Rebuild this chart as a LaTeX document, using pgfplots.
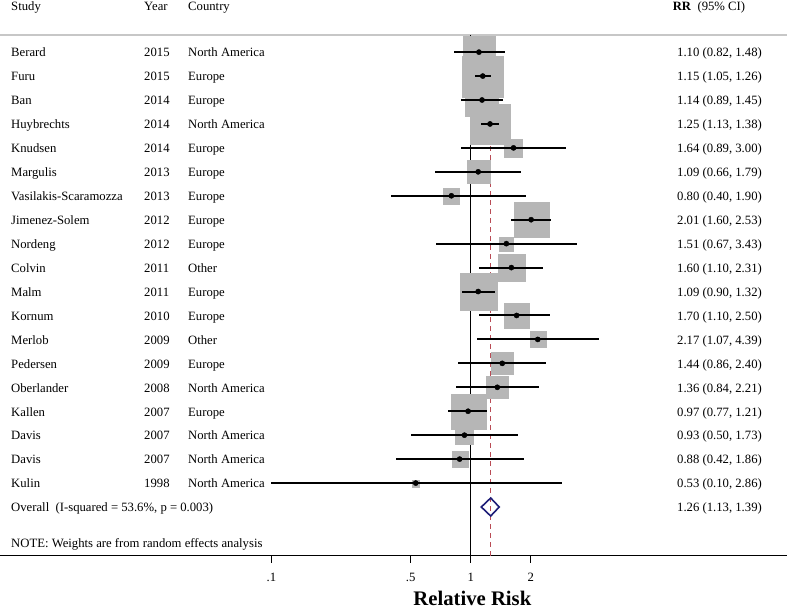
\documentclass[border=0pt]{standalone}
\usepackage{fontspec}
\setmainfont{Liberation Serif}
\usepackage{pgfplots}
\usepackage{pgfplotstable}
\pgfplotsset{compat=1.18}

\definecolor{boxgray}{RGB}{182,182,182}
\definecolor{refred}{RGB}{185,75,85}
\definecolor{dmdnavy}{RGB}{30,30,120}

% row position, study, year, country, RR, CI, box size (px)
\pgfplotstableread[col sep=comma]{
y,study,year,country,rr,lo,hi,w
20,Berard,2015,North America,1.10,0.82,1.48,32
19,Furu,2015,Europe,1.15,1.05,1.26,41
18,Ban,2014,Europe,1.14,0.89,1.45,33
17,Huybrechts,2014,North America,1.25,1.13,1.38,40
16,Knudsen,2014,Europe,1.64,0.89,3.00,18
15,Margulis,2013,Europe,1.09,0.66,1.79,23
14,Vasilakis-Scaramozza,2013,Europe,0.80,0.40,1.90,16
13,Jimenez-Solem,2012,Europe,2.01,1.60,2.53,35
12,Nordeng,2012,Europe,1.51,0.67,3.43,14
11,Colvin,2011,Other,1.60,1.10,2.31,27
10,Malm,2011,Europe,1.09,0.90,1.32,37
9,Kornum,2010,Europe,1.70,1.10,2.50,25
8,Merlob,2009,Other,2.17,1.07,4.39,16
7,Pedersen,2009,Europe,1.44,0.86,2.40,22
6,Oberlander,2008,North America,1.36,0.84,2.21,22
5,Kallen,2007,Europe,0.97,0.77,1.21,35
4,Davis,2007,North America,0.93,0.50,1.73,18
3,Davis,2007,North America,0.88,0.42,1.86,16
2,Kulin,1998,North America,0.53,0.10,2.86,7
}\studies

\pgfplotsset{
  textcol/.style={black, only marks, mark=none, nodes near coords,
    point meta=explicit symbolic,
    nodes near coords style={anchor=base west, inner sep=0pt, yshift=-4.8pt, black}},
}

\begin{document}
\fontsize{12.7}{15}\selectfont
\begin{tikzpicture}
\begin{axis}[
  name=ax,
  scale only axis,
  width=787pt, height=520.7pt,
  xmode=log,
  xmin=0.004346, xmax=38.65,
  ymin=-1.034, ymax=20.716,
  axis x line*=bottom,
  axis y line=none,
  axis line style={black, line width=1.1pt},
  xtick={0.1,0.5,1,2},
  xticklabels={.1,.5,1,2},
  minor xtick={},
  xtick align=outside,
  major tick length=7pt,
  xtick style={black, line width=1.1pt},
  xticklabel style={yshift=-6pt},
  clip=false,
  clip marker paths=true,
  /pgf/number format/assume math mode=true,
]
% header rule
\draw[black!22, line width=1.5pt] (rel axis cs:0,1) -- (rel axis cs:1,1);

% null line and overall line (behind the boxes)
\addplot[black, line width=1.1pt] coordinates {(1,-1.034) (1,20.716)};
\addplot[refred, line width=1.1pt, dash pattern=on 5pt off 4pt]
  coordinates {(1.26,-1.034) (1.26,20.716)};

% weight boxes
\addplot[scatter, only marks, mark=square*,
  mark options={line width=0.1pt},
  scatter/use mapped color={draw=boxgray, fill=boxgray},
  visualization depends on={\thisrow{w}/2 \as \halfw},
  scatter/@pre marker code/.append style={/tikz/mark size=\halfw pt}]
  table[x=rr, y=y] {\studies};

% confidence intervals and point estimates
\addplot[black, only marks, mark=*, mark size=2.6pt,
  error bars/.cd, x dir=both, x explicit, error mark=none,
  error bar style={black, line width=2pt}]
  table[x=rr, y=y,
    x error plus expr=\thisrow{hi}-\thisrow{rr},
    x error minus expr=\thisrow{rr}-\thisrow{lo}] {\studies};

% overall diamond
\addplot[dmdnavy, line width=1.6pt]
  coordinates {(1.13,1) (1.26,1.376) (1.39,1) (1.26,0.624)} -- cycle;

% text columns
\addplot[textcol] table[x expr=0.004936, y=y, meta=study] {\studies};
\addplot[textcol] table[x expr=0.02295, y=y, meta=year] {\studies};
\addplot[textcol] table[x expr=0.03815, y=y, meta=country] {\studies};
\addplot[black, only marks, mark=none, nodes near coords={%
    \pgfmathprintnumber[fixed, fixed zerofill, precision=2]{\rrv}
    (\pgfmathprintnumber[fixed, fixed zerofill, precision=2]{\lov},
    \pgfmathprintnumber[fixed, fixed zerofill, precision=2]{\hiv})},
  visualization depends on={\thisrow{rr} \as \rrv},
  visualization depends on={\thisrow{lo} \as \lov},
  visualization depends on={\thisrow{hi} \as \hiv},
  nodes near coords style={anchor=base west, inner sep=0pt, yshift=-4.8pt, black}]
  table[x expr=10.84, y=y] {\studies};

% headers
\node[anchor=base west, inner sep=0pt, yshift=24.3pt] at (axis cs:0.004936,20.716) {Study};
\node[anchor=base west, inner sep=0pt, yshift=24.3pt] at (axis cs:0.02295,20.716) {Year};
\node[anchor=base west, inner sep=0pt, yshift=24.3pt] at (axis cs:0.03815,20.716) {Country};
\node[anchor=base west, inner sep=0pt, yshift=24.3pt] at (axis cs:10.30,20.716) {\textbf{RR}\ \ (95\% CI)};

% overall row and note
\node[anchor=base west, inner sep=0pt, yshift=-4.8pt] at (axis cs:0.004936,1) {Overall\ \ (I-squared = 53.6\%, p = 0.003)};
\node[anchor=base west, inner sep=0pt, yshift=-4.8pt] at (axis cs:10.84,1) {1.26 (1.13, 1.39)};
\node[anchor=base west, inner sep=0pt, yshift=-4.8pt] at (axis cs:0.004936,-0.504) {NOTE: Weights are from random effects analysis};

% axis title
\node[anchor=base, inner sep=0pt, yshift=-49.5pt, font=\fontsize{20.7}{24}\selectfont\bfseries]
  at (axis cs:1.019,-1.034) {Relative Risk};
\end{axis}
\pgfresetboundingbox
\path ([yshift=-53.3pt]ax.south west) rectangle ([yshift=35pt]ax.north east);
\end{tikzpicture}
\end{document}
